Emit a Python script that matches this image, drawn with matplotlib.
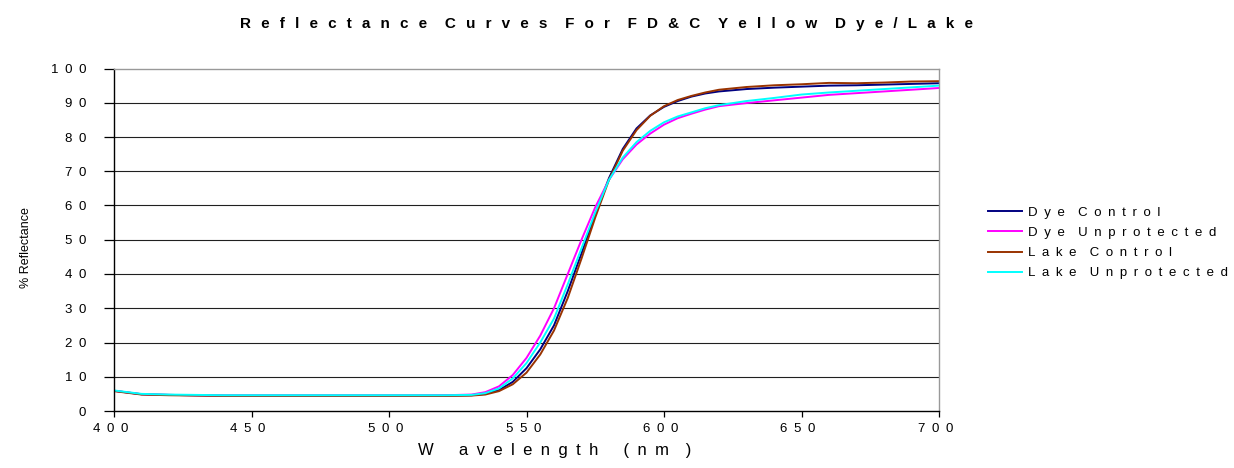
import matplotlib
matplotlib.use('Agg')
import matplotlib.pyplot as plt

plt.rcParams['font.family'] = ['Liberation Sans', 'DejaVu Sans']

# ==== data ====
wavelength = [400, 410, 420, 430, 440, 450, 460, 470, 480, 490, 500, 510, 520, 530,
              535, 540, 545, 550, 555, 560, 565, 570, 575, 580, 585, 590, 595, 600,
              605, 610, 615, 620, 630, 640, 650, 660, 670, 680, 690, 700]

dye_control = [5.9, 4.9, 4.7, 4.6, 4.5, 4.5, 4.5, 4.5, 4.5, 4.5, 4.5, 4.5, 4.5, 4.6,
               5.0, 6.1, 8.5, 12.5, 18.0, 25.0, 35.0, 46.0, 57.5, 68.0, 76.5, 82.5, 86.3, 88.8,
               90.5, 91.8, 92.7, 93.3, 94.0, 94.4, 94.7, 95.0, 95.1, 95.3, 95.5, 95.7]

dye_unprotected = [5.9, 4.9, 4.7, 4.6, 4.5, 4.5, 4.5, 4.5, 4.5, 4.5, 4.5, 4.5, 4.6, 4.8,
                   5.5, 7.2, 10.5, 15.5, 22.0, 30.0, 40.0, 50.0, 59.5, 67.5, 73.5, 77.8, 81.0, 83.6,
                   85.5, 86.8, 88.0, 89.0, 89.9, 90.7, 91.5, 92.3, 92.8, 93.3, 93.8, 94.3]

lake_control = [5.8, 4.8, 4.6, 4.5, 4.4, 4.4, 4.4, 4.4, 4.4, 4.4, 4.4, 4.4, 4.4, 4.5,
                4.8, 5.8, 7.8, 11.2, 16.5, 23.5, 33.0, 44.5, 56.5, 67.5, 76.0, 82.0, 86.2, 89.0,
                90.8, 92.0, 93.0, 93.8, 94.6, 95.1, 95.4, 95.8, 95.7, 95.9, 96.2, 96.3]

lake_unprotected = [6.0, 5.0, 4.8, 4.7, 4.6, 4.6, 4.6, 4.6, 4.6, 4.6, 4.6, 4.6, 4.6, 4.7,
                    5.2, 6.6, 9.5, 14.0, 20.0, 27.0, 37.0, 47.5, 58.0, 67.5, 74.0, 78.5, 81.8, 84.3,
                    86.0, 87.2, 88.4, 89.3, 90.5, 91.4, 92.4, 93.0, 93.5, 94.0, 94.5, 95.0]

series = [("Dye Control", dye_control, "#000080"),
          ("Dye Unprotected", dye_unprotected, "#FF00FF"),
          ("Lake Control", lake_control, "#993300"),
          ("Lake Unprotected", lake_unprotected, "#00FFFF")]

x_ticks = [400, 450, 500, 550, 600, 650, 700]
y_ticks = [0, 10, 20, 30, 40, 50, 60, 70, 80, 90, 100]

EN = "\u2002"      # en space
SIXTH = "\u2006"   # six-per-em space


def spaced(s, gap=EN, word=None):
    # excel-style letter spacing
    if word is None:
        word = gap * 2
    return word.join(gap.join(w) for w in s.split(" "))


fig = plt.figure(figsize=(12.34, 4.68), dpi=100)
ax = fig.add_axes([114 / 1234, 1 - 411 / 468, (939 - 114) / 1234, (411 - 68.5) / 468])

for name, vals, col in series:
    ax.plot(wavelength, vals, color=col, lw=1.4, label=spaced(name))

ax.set_xlim(400, 700)
ax.set_ylim(0, 100)
ax.set_xticks(x_ticks)
ax.set_xticklabels([spaced(str(v)) + EN for v in x_ticks], fontsize=9.5)
ax.set_yticks(y_ticks)
ax.set_yticklabels([spaced(str(v)) for v in y_ticks], fontsize=9.5)
ax.tick_params(axis='y', direction='out', length=7, width=0.9, pad=13)
ax.tick_params(axis='x', direction='out', length=4, width=0.9, pad=5)

for yv in y_ticks[1:-1]:
    ax.axhline(yv, color='#202020', lw=0.8, zorder=0)

ax.spines['left'].set_color('black')
ax.spines['bottom'].set_color('black')
ax.spines['top'].set_color('#999999')
ax.spines['right'].set_color('#999999')
for sp in ax.spines.values():
    sp.set_linewidth(1.0)

xlab = "W" + EN * 3 + spaced("avelength") + EN * 3 + spaced("(nm") + EN * 2 + ")"
fig.text(555 / 1234, 1 - 455 / 468, xlab, fontsize=12, ha='center', va='baseline')
fig.text(26 / 1234, 1 - 248 / 468, "% Reflectance", rotation=90, fontsize=9,
         ha='center', va='center')
fig.text(607 / 1234, 1 - 28.3 / 468,
         spaced("Reflectance Curves For FD&C Yellow Dye/Lake", EN + SIXTH, EN * 2 + SIXTH),
         fontsize=11, fontweight='bold', ha='center', va='baseline')

ax.legend(loc='center left', bbox_to_anchor=(988 / 1234, 1 - 243 / 468),
          bbox_transform=fig.transFigure, frameon=False, fontsize=9.5,
          handlelength=2.55, handletextpad=0.45, labelspacing=0.6, borderpad=0,
          borderaxespad=0)

fig.savefig('out.png', dpi=100)
